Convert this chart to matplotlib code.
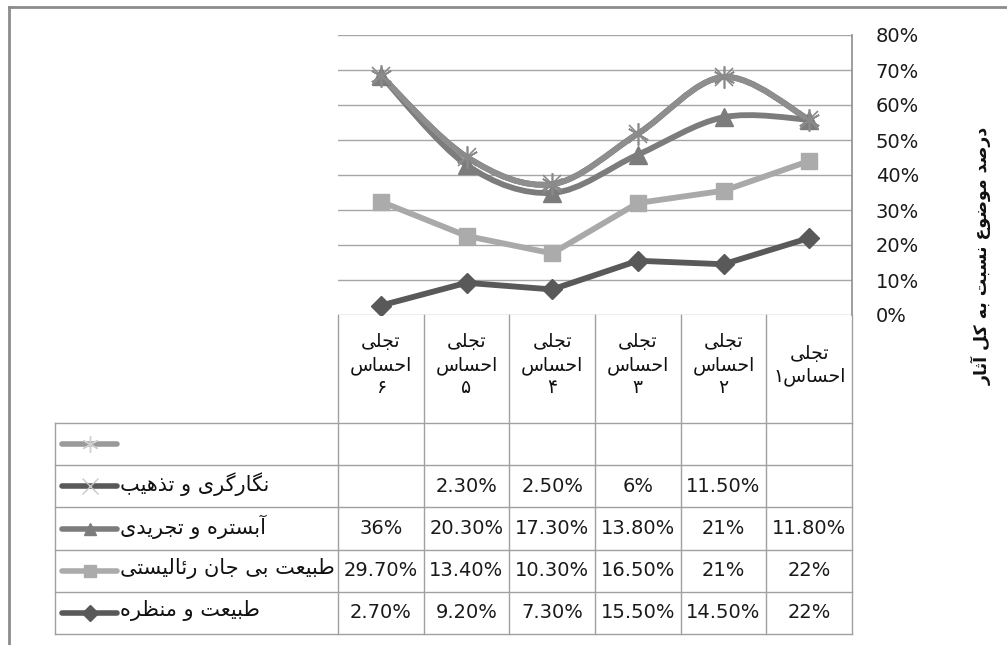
import numpy as np
import matplotlib
matplotlib.use('Agg')
from matplotlib import pyplot as plt
from matplotlib.path import Path
from matplotlib.patches import PathPatch
from matplotlib.lines import Line2D

plt.rcParams['font.family'] = ['DejaVu Sans']

# data (cat 1 .. cat 6), values in percent
categories = ['تجلی\nاحساس۱', 'تجلی\nاحساس\n۲', 'تجلی\nاحساس\n۳',
              'تجلی\nاحساس\n۴', 'تجلی\nاحساس\n۵', 'تجلی\nاحساس\n۶']
series_names = ['طبیعت و منظره', 'طبیعت بی جان رئالیستی', 'آبستره و تجریدی',
                'نگارگری و تذهیب', '']
landscape = [22, 14.5, 15.5, 7.3, 9.2, 2.7]
still_life = [22, 21, 16.5, 10.3, 13.4, 29.7]
abstract = [11.8, 21, 13.8, 17.3, 20.3, 36]
miniature = [None, 11.5, 6, 2.5, 2.3, None]
unnamed = [None, None, None, None, None, None]
y_ticks = [0, 10, 20, 30, 40, 50, 60, 70, 80]
y_title = 'درصد موضوع نسبت به کل آثار'

# --- minimal arabic shaping (presentation forms) ---
FORMS = {
    'ا': ('\uFE8D', '\uFE8E', None, None),
    'آ': ('\uFE81', '\uFE82', None, None),
    'ب': ('\uFE8F', '\uFE90', '\uFE91', '\uFE92'),
    'ت': ('\uFE95', '\uFE96', '\uFE97', '\uFE98'),
    'ث': ('\uFE99', '\uFE9A', '\uFE9B', '\uFE9C'),
    'ج': ('\uFE9D', '\uFE9E', '\uFE9F', '\uFEA0'),
    'ح': ('\uFEA1', '\uFEA2', '\uFEA3', '\uFEA4'),
    'د': ('\uFEA9', '\uFEAA', None, None),
    'ذ': ('\uFEAB', '\uFEAC', None, None),
    'ر': ('\uFEAD', '\uFEAE', None, None),
    'س': ('\uFEB1', '\uFEB2', '\uFEB3', '\uFEB4'),
    'ص': ('\uFEB9', '\uFEBA', '\uFEBB', '\uFEBC'),
    'ض': ('\uFEBD', '\uFEBE', '\uFEBF', '\uFEC0'),
    'ط': ('\uFEC1', '\uFEC2', '\uFEC3', '\uFEC4'),
    'ظ': ('\uFEC5', '\uFEC6', '\uFEC7', '\uFEC8'),
    'ع': ('\uFEC9', '\uFECA', '\uFECB', '\uFECC'),
    'ک': ('\uFB8E', '\uFB8F', '\uFB90', '\uFB91'),
    'گ': ('\uFB92', '\uFB93', '\uFB94', '\uFB95'),
    'ل': ('\uFEDD', '\uFEDE', '\uFEDF', '\uFEE0'),
    'م': ('\uFEE1', '\uFEE2', '\uFEE3', '\uFEE4'),
    'ن': ('\uFEE5', '\uFEE6', '\uFEE7', '\uFEE8'),
    'ه': ('\uFEE9', '\uFEEA', '\uFEEB', '\uFEEC'),
    'و': ('\uFEED', '\uFEEE', None, None),
    'ی': ('\uFBFC', '\uFBFD', '\uFBFE', '\uFBFF'),
    'ئ': ('\uFE89', '\uFE8A', '\uFE8B', '\uFE8C'),
}

def shape_line(s):
    out = []
    for i, c in enumerate(s):
        if c not in FORMS:
            out.append(c)
            continue
        f = FORMS[c]
        prev = s[i-1] if i > 0 else ''
        nxt = s[i+1] if i+1 < len(s) else ''
        jp = prev in FORMS and FORMS[prev][2] is not None
        jn = f[2] is not None and nxt in FORMS
        if jp and jn:
            out.append(f[3])
        elif jp:
            out.append(f[1])
        elif jn:
            out.append(f[2])
        else:
            out.append(f[0])
    return ''.join(out)[::-1]

def fa(s):
    return '\n'.join(shape_line(l) for l in s.split('\n'))

def pct(v):
    if v is None:
        return ''
    if v == int(v):
        return '%d%%' % v
    return '%.2f%%' % v

def smooth_path(x, y):
    pts = np.column_stack([x, y]).astype(float)
    n = len(pts)
    verts = [pts[0]]
    codes = [Path.MOVETO]
    for i in range(n-1):
        p0 = pts[i-1] if i > 0 else pts[i]
        p1 = pts[i]
        p2 = pts[i+1]
        p3 = pts[i+2] if i+2 < n else pts[i+1]
        verts += [p1 + (p2-p0)/6., p2 - (p3-p1)/6., p2]
        codes += [Path.CURVE4]*3
    return Path(verts, codes)

# stacking
raw = [landscape, still_life, abstract, miniature, unnamed]
stacked = []
acc = np.zeros(6)
for r in raw:
    acc = acc + np.array([0 if v is None else v for v in r], dtype=float)
    stacked.append(acc.copy())

styles = [
    dict(color='#595959', marker='D', ms=10, mfc='#595959', mec='#595959', mew=1, smooth=False),
    dict(color='#a9a9a9', marker='s', ms=12, mfc='#ababab', mec='#ababab', mew=1, smooth=False),
    dict(color='#7c7c7c', marker='^', ms=13, mfc='#7c7c7c', mec='#7c7c7c', mew=1, smooth=True),
    dict(color='#5e5e5e', marker='x', ms=13, mfc='none', mec='#8a8a8a', mew=1.2, smooth=True),
    dict(color='#8e8e8e', marker=(6, 2, 0), ms=16, mfc='none', mec='#8a8a8a', mew=1.2, smooth=True),
]
key_styles = [
    dict(color='#595959', marker='D', ms=8, mfc='#595959', mec='#595959', mew=1),
    dict(color='#ababab', marker='s', ms=9, mfc='#ababab', mec='#ababab', mew=1),
    dict(color='#7c7c7c', marker='^', ms=9, mfc='#7c7c7c', mec='#7c7c7c', mew=1),
    dict(color='#595959', marker='x', ms=11, mfc='none', mec='#c8c8c8', mew=1),
    dict(color='#9a9a9a', marker=(6, 2, 0), ms=12, mfc='none', mec='#d0d0d0', mew=1),
]

W, H = 1007, 645
fig = plt.figure(figsize=(W/100, H/100), dpi=100)

px_left, px_right = 338, 852
px_top, px_zero, px_bottom = 35, 315, 634
px_leg = 55
x = np.arange(len(categories))

ax = fig.add_axes([px_left/W, 1-px_zero/H, (px_right-px_left)/W, (px_zero-px_top)/H])
ax.set_xlim(5.5, -0.5)
ax.set_ylim(0, 80)
ax.set_yticks(y_ticks)
ax.set_yticklabels(['%d%%' % t for t in y_ticks])
ax.yaxis.tick_right()
ax.tick_params(axis='y', length=0, pad=17, labelsize=14, labelcolor='#1a1a1a')
ax.tick_params(axis='x', length=0, labelbottom=False)
for t in ax.get_yticklabels():
    t.set_horizontalalignment('left')
ax.grid(axis='y', color='#a6a6a6', lw=1)
ax.set_axisbelow(True)
for s in ['left', 'top', 'bottom']:
    ax.spines[s].set_visible(False)
ax.spines['right'].set_color('#8c8c8c')
ax.spines['right'].set_linewidth(1.2)

for vals, st in zip(stacked, styles):
    if st['smooth']:
        ax.add_patch(PathPatch(smooth_path(x, vals), fill=False, edgecolor=st['color'],
                               lw=4.2, capstyle='round', joinstyle='round', zorder=3))
    else:
        ax.plot(x, vals, color=st['color'], lw=4.2, solid_joinstyle='round', zorder=3)
    ax.plot(x, vals, ls='none', marker=st['marker'], ms=st['ms'], mfc=st['mfc'],
            mec=st['mec'], mew=st['mew'], zorder=4)

# data table
col_w = (px_right - px_left) / 6.
leg_w = (px_left - px_leg) / col_w
row_px = (px_bottom - px_zero - 108) / 5.
head_h = 108 / row_px
tax = fig.add_axes([px_leg/W, 1-px_bottom/H, (px_right-px_leg)/W, (px_bottom-px_zero)/H])
tax.set_xlim(5.5 + leg_w, -0.5)
tax.set_ylim(0, 5 + head_h)
tax.axis('off')
gc = '#a0a0a0'
for b in np.arange(-0.5, 6, 1):
    tax.plot([b, b], [0, 5 + head_h], color=gc, lw=1, clip_on=False)
tax.plot([5.5 + leg_w]*2, [0, 5], color=gc, lw=1, clip_on=False)
for r in range(6):
    tax.plot([-0.5, 5.5 + leg_w], [r, r], color=gc, lw=1, clip_on=False)

for i, c in enumerate(categories):
    tax.text(x[i], 5 + head_h/2 + 0.1, fa(c), ha='center', va='center', fontsize=13.5,
             linespacing=1.25, color='#111111')

for k, (vals, name, kst) in enumerate(zip(raw, series_names, key_styles)):
    yc = k + 0.5
    for i, v in enumerate(vals):
        tax.text(x[i], yc, pct(v), ha='center', va='center', fontsize=14, color='#1a1a1a')
    x0 = 5.5 + leg_w - 7/col_w
    x1 = 5.5 + leg_w - 62/col_w
    tax.plot([x0, x1], [yc, yc], color=kst['color'], lw=4, solid_capstyle='round')
    tax.plot([(x0 + x1)/2], [yc], ls='none', marker=kst['marker'], ms=kst['ms'],
             mfc=kst['mfc'], mec=kst['mec'], mew=kst['mew'])
    if name:
        tax.text(x1 - 3/col_w, yc + 0.05, fa(name), ha='left', va='center', fontsize=15,
                 color='#111111')

fig.text(982/W, 1-256/H, fa(y_title), rotation=90, ha='center', va='center',
         fontsize=12.5, fontweight='bold', color='#111111')

# outer frame
fig.add_artist(Line2D([9/W, 1], [1-7/H, 1-7/H], color='#8c8c8c', lw=2))
fig.add_artist(Line2D([9/W, 9/W], [0, 1-7/H], color='#8c8c8c', lw=2))

fig.savefig('out.png', dpi=100)
